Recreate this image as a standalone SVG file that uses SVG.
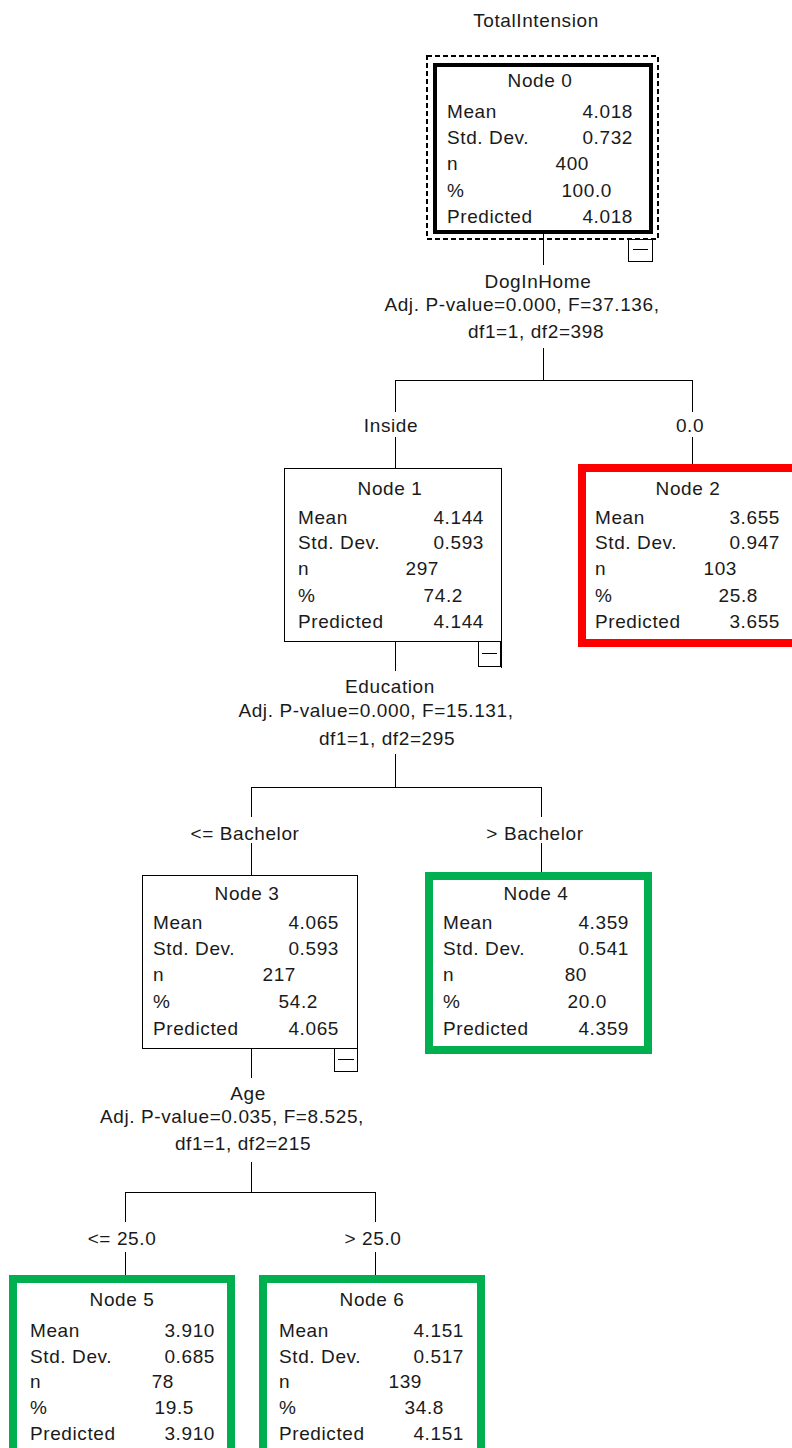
<svg xmlns="http://www.w3.org/2000/svg" width="792" height="1448" viewBox="0 0 792 1448">
<style>
text{font-family:"Liberation Sans",Arial,sans-serif;font-size:19px;fill:#1a1a1a;letter-spacing:0.6px}
.m{text-anchor:middle}
.e{text-anchor:end}
.ln{stroke:#000;stroke-width:1;fill:none}
.box{fill:#fff;stroke:#000;stroke-width:1}
.red{fill:#fff;stroke:#ff0000;stroke-width:8}
.grn{fill:#fff;stroke:#00b050;stroke-width:8}
.cb{fill:#fff;stroke:#000;stroke-width:1}
</style>
<rect width="792" height="1448" fill="#fff"/>
<g id="connectors">
<path class="ln" d="M543.5 234V265M543.5 348V380.5M395 380.5H693M395.5 380V412M395.5 437V468M692.5 380V412M692.5 437V464"/>
<path class="ln" d="M395.5 641V671M395.5 754V787.5M251 787.5H542M251.5 787V817M251.5 843V875M541.5 787V817M541.5 843V872"/>
<path class="ln" d="M251.5 1048V1078M251.5 1162V1192.5M125 1192.5H376M125.5 1192V1222M125.5 1252V1275M375.5 1192V1222M375.5 1252V1275"/>
<text class="m" x="536" y="27">TotalIntension</text>
<text class="m" x="538" y="288">DogInHome</text>
<text class="m" x="522" y="311">Adj. P-value=0.000, F=37.136,</text>
<text class="m" x="536" y="338">df1=1, df2=398</text>
<text class="m" x="391" y="432">Inside</text>
<text class="m" x="690" y="432">0.0</text>
<text class="m" x="390" y="693">Education</text>
<text class="m" x="376" y="717">Adj. P-value=0.000, F=15.131,</text>
<text class="m" x="387" y="745">df1=1, df2=295</text>
<text class="m" x="245" y="840">&lt;= Bachelor</text>
<text class="m" x="535" y="840">&gt; Bachelor</text>
<text class="m" x="248" y="1100">Age</text>
<text class="m" x="232" y="1123">Adj. P-value=0.035, F=8.525,</text>
<text class="m" x="243" y="1150">df1=1, df2=215</text>
<text class="m" x="122" y="1245">&lt;= 25.0</text>
<text class="m" x="373" y="1245">&gt; 25.0</text>
</g>
<g id="node0">
<rect x="427" y="56" width="231" height="183" fill="none" stroke="#000" stroke-width="2" stroke-dasharray="5,3"/>
<rect x="435" y="65" width="216" height="167" fill="#fff" stroke="#000" stroke-width="4"/>
<rect class="cb" x="628.5" y="239.5" width="24" height="22"/>
<path class="ln" d="M652.5 239V262M633 249.5H648"/>
<text class="m" x="540" y="87">Node 0</text>
<text x="447" y="118">Mean</text><text class="e" x="633" y="118">4.018</text>
<text x="447" y="144">Std. Dev.</text><text class="e" x="633" y="144">0.732</text>
<text x="447" y="170">n</text><text class="e" x="589" y="170">400</text>
<text x="447" y="197">%</text><text class="e" x="612" y="197">100.0</text>
<text x="447" y="223">Predicted</text><text class="e" x="633" y="223">4.018</text>
</g>
<g id="node1">
<rect class="box" x="284.5" y="468.5" width="217" height="173"/>
<path class="ln" d="M501.5 468V667" stroke-width="2"/>
<rect class="cb" x="478.5" y="641.5" width="22" height="25"/>
<path class="ln" d="M501.5 641V668M482 653.5H497"/>
<text class="m" x="390" y="495">Node 1</text>
<text x="298" y="524">Mean</text><text class="e" x="484" y="524">4.144</text>
<text x="298" y="549">Std. Dev.</text><text class="e" x="484" y="549">0.593</text>
<text x="298" y="575">n</text><text class="e" x="439" y="575">297</text>
<text x="298" y="602">%</text><text class="e" x="463" y="602">74.2</text>
<text x="298" y="628">Predicted</text><text class="e" x="484" y="628">4.144</text>
</g>
<g id="node2">
<rect class="red" x="582" y="468" width="230" height="175"/>
<text class="m" x="688" y="495">Node 2</text>
<text x="595" y="524">Mean</text><text class="e" x="780" y="524">3.655</text>
<text x="595" y="549">Std. Dev.</text><text class="e" x="780" y="549">0.947</text>
<text x="595" y="575">n</text><text class="e" x="737" y="575">103</text>
<text x="595" y="602">%</text><text class="e" x="758" y="602">25.8</text>
<text x="595" y="628">Predicted</text><text class="e" x="780" y="628">3.655</text>
</g>
<g id="node3">
<rect class="box" x="142.5" y="875.5" width="215" height="173"/>
<path class="ln" d="M357.5 875V1072" stroke-width="2"/>
<rect class="cb" x="334.5" y="1048.5" width="23" height="23"/>
<path class="ln" d="M338 1059.5H354"/>
<text class="m" x="247" y="900">Node 3</text>
<text x="153" y="929">Mean</text><text class="e" x="339" y="929">4.065</text>
<text x="153" y="955">Std. Dev.</text><text class="e" x="339" y="955">0.593</text>
<text x="153" y="981">n</text><text class="e" x="296" y="981">217</text>
<text x="153" y="1008">%</text><text class="e" x="318" y="1008">54.2</text>
<text x="153" y="1035">Predicted</text><text class="e" x="339" y="1035">4.065</text>
</g>
<g id="node4">
<rect class="grn" x="429" y="876" width="219" height="174"/>
<text class="m" x="536" y="900">Node 4</text>
<text x="443" y="929">Mean</text><text class="e" x="629" y="929">4.359</text>
<text x="443" y="955">Std. Dev.</text><text class="e" x="629" y="955">0.541</text>
<text x="443" y="981">n</text><text class="e" x="587" y="981">80</text>
<text x="443" y="1008">%</text><text class="e" x="607" y="1008">20.0</text>
<text x="443" y="1035">Predicted</text><text class="e" x="629" y="1035">4.359</text>
</g>
<g id="node5">
<rect class="grn" x="13" y="1279" width="218" height="200"/>
<text class="m" x="122" y="1306">Node 5</text>
<text x="30" y="1337">Mean</text><text class="e" x="215" y="1337">3.910</text>
<text x="30" y="1363">Std. Dev.</text><text class="e" x="215" y="1363">0.685</text>
<text x="30" y="1388">n</text><text class="e" x="174" y="1388">78</text>
<text x="30" y="1414">%</text><text class="e" x="194" y="1414">19.5</text>
<text x="30" y="1440">Predicted</text><text class="e" x="215" y="1440">3.910</text>
</g>
<g id="node6">
<rect class="grn" x="263" y="1279" width="218" height="200"/>
<text class="m" x="372" y="1306">Node 6</text>
<text x="279" y="1337">Mean</text><text class="e" x="464" y="1337">4.151</text>
<text x="279" y="1363">Std. Dev.</text><text class="e" x="464" y="1363">0.517</text>
<text x="279" y="1388">n</text><text class="e" x="422" y="1388">139</text>
<text x="279" y="1414">%</text><text class="e" x="444" y="1414">34.8</text>
<text x="279" y="1440">Predicted</text><text class="e" x="464" y="1440">4.151</text>
</g>
</svg>
